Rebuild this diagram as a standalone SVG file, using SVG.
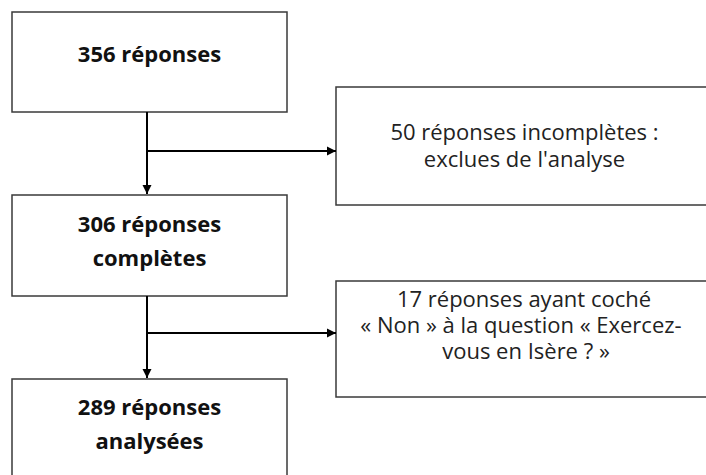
<svg xmlns="http://www.w3.org/2000/svg" width="706" height="475" viewBox="0 0 706 475">
  <style>
    .box { fill: #ffffff; stroke: #3a3a3a; stroke-width: 1.5; }
    .conn { fill: none; stroke: #000000; stroke-width: 2; }
    .b { font-family: "Open Sans", "Liberation Sans", sans-serif; font-size: 22px; font-weight: bold; fill: #111111; text-anchor: middle; }
    .r { font-family: "Open Sans", "Liberation Sans", sans-serif; font-size: 22px; fill: #222222; text-anchor: middle; }
  </style>
  <defs>
    <marker id="arrow" markerUnits="userSpaceOnUse" markerWidth="10" markerHeight="10" refX="9" refY="5" orient="auto">
      <path d="M0,0.5 L9,5 L0,9.5 z" fill="#000000"/>
    </marker>
  </defs>
  <rect x="0" y="0" width="706" height="475" fill="#ffffff"/>
  <g id="n1">
    <rect class="box" x="12" y="12" width="275" height="100"/>
    <text class="b" x="149.5" y="62">356 réponses</text>
  </g>
  <g id="n2">
    <rect class="box" x="336" y="87" width="380" height="118"/>
    <text class="r" x="524.5" y="140">50 réponses incomplètes :</text>
    <text class="r" x="524.5" y="167">exclues de l'analyse</text>
  </g>
  <g id="n3">
    <rect class="box" x="12" y="195" width="275" height="101"/>
    <text class="b" x="149.5" y="232">306 réponses</text>
    <text class="b" x="149.5" y="266">complètes</text>
  </g>
  <g id="n4">
    <rect class="box" x="336" y="281" width="380" height="116"/>
    <text class="r" x="524" y="307">17 réponses ayant coché</text>
    <text class="r" x="521" y="333">« Non » à la question « Exercez-</text>
    <text class="r" x="526" y="359">vous en Isère ? »</text>
  </g>
  <g id="n5">
    <rect class="box" x="12" y="379" width="275" height="110"/>
    <text class="b" x="149.5" y="415">289 réponses</text>
    <text class="b" x="149.5" y="449">analysées</text>
  </g>
  <g id="connectors">
    <line class="conn" x1="147" y1="112" x2="147" y2="194" marker-end="url(#arrow)"/>
    <line class="conn" x1="147" y1="151" x2="336" y2="151" marker-end="url(#arrow)"/>
    <line class="conn" x1="147" y1="296" x2="147" y2="378" marker-end="url(#arrow)"/>
    <line class="conn" x1="147" y1="333" x2="336" y2="333" marker-end="url(#arrow)"/>
  </g>
</svg>
